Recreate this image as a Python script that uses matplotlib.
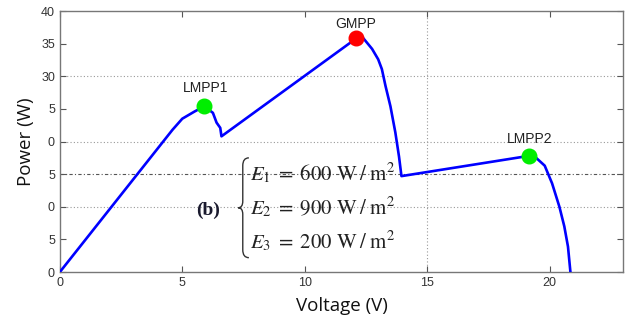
import matplotlib
matplotlib.use("Agg")
import matplotlib.pyplot as plt
from matplotlib.path import Path
from matplotlib.patches import PathPatch

voltage = [0, 4.6, 5.0, 5.5, 5.9, 6.25, 6.4, 6.55, 6.6, 12.1, 12.4, 12.75, 13.0,
           13.15, 13.3, 13.5, 13.7, 13.85, 13.95, 19.15, 19.45, 19.8, 20.1, 20.4,
           20.6, 20.75, 20.85]
power = [0, 21.8, 23.5, 24.6, 25.4, 24.4, 22.9, 22.1, 20.8, 35.8, 35.8, 34.2, 32.6,
         31.1, 28.5, 25.4, 21.4, 17.7, 14.7, 17.8, 17.5, 16.3, 13.6, 10.0,
         7.0, 3.9, 0.0]

lmpp_v = [5.9, 19.15]
lmpp_p = [25.4, 17.8]
lmpp_labels = ["LMPP1", "LMPP2"]
gmpp_v = [12.1]
gmpp_p = [35.8]
gmpp_label = "GMPP"

x_ticks = [0, 5, 10, 15, 20]
x_ticklabels = ["0", "5", "10", "15", "20"]
y_ticks = [0, 5, 10, 15, 20, 25, 30, 35, 40]
y_ticklabels = ["0", "5", "0", "5", "0", "5", "30", "35", "40"]

equations = [r"$E_1\;=\;600\ \mathrm{W\;/\;m^2}$",
             r"$E_2\;=\;900\ \mathrm{W\;/\;m^2}$",
             r"$E_3\;=\;200\ \mathrm{W\;/\;m^2}$"]

plt.rcParams['mathtext.fontset'] = 'stix'

fig = plt.figure(figsize=(6.3, 3.25), dpi=100)
ax = fig.add_axes([0.095, 0.163, 0.894, 0.803])

ax.plot(voltage, power, color="#0000ff", lw=1.9, zorder=3)
ax.plot(lmpp_v, lmpp_p, 'o', color="#00ee00", ms=10.5, zorder=4)
ax.plot(gmpp_v, gmpp_p, 'o', color="#ff0000", ms=10.5, zorder=4)

lab_font = dict(family="Liberation Sans", fontsize=10, color="#222222", ha="center")
ax.text(5.95, 27.6, lmpp_labels[0], **lab_font)
ax.text(19.2, 19.8, lmpp_labels[1], **lab_font)
ax.text(12.1, 37.4, gmpp_label, **lab_font)

ax.set_xlim(0, 23)
ax.set_ylim(0, 40)

# grid
for y in [10, 20, 30]:
    ax.axhline(y, color="#999999", lw=0.8, ls=(0, (1, 2)), zorder=1)
ax.axhline(15, color="#555555", lw=0.8, ls=(0, (3, 2, 1, 2)), zorder=1)
ax.axvline(15, color="#999999", lw=0.8, ls=(0, (1, 2)), zorder=1)

ax.set_xticks(x_ticks)
ax.set_xticklabels(x_ticklabels)
ax.set_yticks(y_ticks)
ax.set_yticklabels(y_ticklabels)
ax.tick_params(direction="in", top=True, right=True, length=4, width=0.8,
               color="#555555", labelcolor="#333333", labelsize=9)
for lbl in ax.get_xticklabels() + ax.get_yticklabels():
    lbl.set_family("Liberation Sans")
for s in ax.spines.values():
    s.set_color("#777777")
    s.set_linewidth(1.0)

ax.set_xlabel("Voltage (V)", family="Open Sans", fontsize=13.5, color="#111111", labelpad=6)
ax.set_ylabel("Power (W)", family="Open Sans", fontsize=13.5, color="#111111", labelpad=4)

# annotation
ax.text(6.05, 9.4, "(b)", family="Liberation Serif", fontweight="bold",
        fontsize=14, color="#1a1a2e", ha="center", va="center")

# curly brace drawn in data coordinates
xb, xt, xe = 7.47, 7.28, 7.72
yt, ym, yb = 17.5, 9.85, 2.2
verts = [(xe, yt),
         (xb, yt), (xb, yt - 1.2),
         (xb, ym + 1.0),
         (xb, ym), (xt, ym),
         (xb, ym), (xb, ym - 1.0),
         (xb, yb + 1.2),
         (xb, yb), (xe, yb)]
codes = [Path.MOVETO,
         Path.CURVE3, Path.CURVE3,
         Path.LINETO,
         Path.CURVE3, Path.CURVE3,
         Path.CURVE3, Path.CURVE3,
         Path.LINETO,
         Path.CURVE3, Path.CURVE3]
ax.add_patch(PathPatch(Path(verts, codes), fill=False, lw=1.0, ec="#333333", zorder=2))

for i, eq in enumerate(equations):
    ax.text(7.75, 15.2 - i * 5.15, eq, fontsize=15, color="#222222", ha="left", va="center")

fig.savefig("out.png", dpi=100)
